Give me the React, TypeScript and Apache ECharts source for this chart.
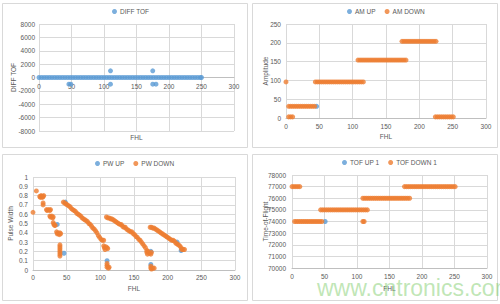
import React, { useEffect, useRef } from "react";
import * as echarts from "echarts";

// FHL sweep used by the DIFF TOF panel
const fhl = [
  0, 4, 8, 12, 16, 20, 24, 28, 32, 36, 40, 44, 48, 52, 56, 60, 64, 68, 72, 76, 80, 84, 88, 92, 96, 100,
  104, 108, 112, 116, 120, 124, 128, 132, 136, 140, 144, 148, 152, 156, 160, 164, 168, 172, 176, 180,
  184, 188, 192, 196, 200, 204, 208, 212, 216, 220, 224, 228, 232, 236, 240, 244, 248, 250,
];
const diffTof = [
  0, 0, 0, 0, 0, 0, 0, 0, 0, 0, 0, 0, 0, 0, 0, 0, 0, 0, 0, 0, 0, 0, 0, 0, 0, 0,
  0, 0, 0, 0, 0, 0, 0, 0, 0, 0, 0, 0, 0, 0, 0, 0, 0, 0, 0, 0,
  0, 0, 0, 0, 0, 0, 0, 0, 0, 0, 0, 0, 0, 0, 0, 0, 0, 0,
];
const diffTofJumpFhl = [46, 49, 110, 110, 175, 175, 180];
const diffTofJump = [-1000, -1000, 1000, -1000, 1000, -1000, -1000];

// Amplitude readings [FHL, amplitude]
const amUp: [number, number][] = [[46, 31]];
const amDown: [number, number][] = [
  [0, 96],
  [4, 3], [7, 3], [10, 3],
  [4, 31], [7, 31], [10, 31], [13, 31], [16, 31], [19, 31], [22, 31], [25, 31], [28, 31], [31, 31],
  [34, 31], [37, 31], [40, 31], [43, 31],
  [44, 96], [47, 96], [50, 96], [53, 96], [56, 96], [59, 96], [62, 96], [65, 96], [68, 96], [71, 96],
  [74, 96], [77, 96], [80, 96], [83, 96], [86, 96], [89, 96], [92, 96], [95, 96], [98, 96], [101, 96],
  [104, 96], [107, 96], [110, 96], [113, 96], [116, 96],
  [108, 154], [111, 154], [114, 154], [117, 154], [120, 154], [123, 154], [126, 154], [129, 154],
  [132, 154], [135, 154], [138, 154], [141, 154], [144, 154], [147, 154], [150, 154], [153, 154],
  [156, 154], [159, 154], [162, 154], [165, 154], [168, 154], [171, 154], [174, 154], [177, 154], [180, 154],
  [174, 204], [177, 204], [180, 204], [183, 204], [186, 204], [189, 204], [192, 204], [195, 204],
  [198, 204], [201, 204], [204, 204], [207, 204], [210, 204], [213, 204], [216, 204], [219, 204],
  [222, 204], [225, 204],
  [224, 3], [227, 3], [230, 3], [233, 3], [236, 3], [239, 3], [242, 3], [245, 3], [248, 3], [251, 3],
];

// Pulse width readings [FHL, width]
const pwUp: [number, number][] = [
  [36, 0.49], [46, 0.18], [48, 0.73], [110, 0.1], [175, 0.2], [175, 0.06], [214, 0.3], [220, 0.21],
];
const pwDown: [number, number][] = [
  [0, 0.62],
  [5, 0.85],
  [10, 0.79], [11, 0.78], [12, 0.8], [13, 0.79], [14, 0.78], [15, 0.79], [16, 0.8],
  [15, 0.72], [15, 0.7],
  [20, 0.65], [21, 0.64], [23, 0.65], [25, 0.64], [26, 0.65],
  [25, 0.58], [26, 0.57], [28, 0.58], [29, 0.56], [30, 0.57],
  [30, 0.51], [31, 0.49], [32, 0.48], [33, 0.48],
  [35, 0.41], [36, 0.39], [37, 0.4], [39, 0.38], [40, 0.4], [41, 0.39],
  [40, 0.27], [40, 0.25], [40, 0.23], [40, 0.21], [40, 0.19], [40, 0.17], [40, 0.15],
  [45, 0.73], [47, 0.72], [49, 0.71], [51, 0.7], [53, 0.69], [55, 0.68], [57, 0.66], [59, 0.65],
  [61, 0.64], [63, 0.63], [65, 0.61], [67, 0.6], [69, 0.59], [71, 0.58], [73, 0.56], [75, 0.55],
  [77, 0.54], [79, 0.53], [81, 0.52], [83, 0.5], [85, 0.49], [87, 0.47], [89, 0.45], [91, 0.44],
  [93, 0.42], [95, 0.4], [97, 0.37], [99, 0.35], [101, 0.33], [103, 0.32], [105, 0.32],
  [105, 0.26], [106, 0.24], [107, 0.22], [108, 0.25], [110, 0.24], [111, 0.23],
  [110, 0.07], [110, 0.05], [110, 0.03], [112, 0.02], [113, 0.03],
  [109, 0.57], [111, 0.56], [113, 0.56], [115, 0.55], [117, 0.55], [119, 0.54], [121, 0.53], [123, 0.52],
  [125, 0.51], [127, 0.5], [129, 0.49], [131, 0.49], [133, 0.47], [135, 0.46], [137, 0.46], [139, 0.44],
  [141, 0.43], [143, 0.42], [145, 0.41], [147, 0.41], [149, 0.39], [151, 0.38], [153, 0.36], [155, 0.35],
  [157, 0.33], [159, 0.32], [161, 0.3], [163, 0.28], [165, 0.26], [167, 0.24],
  [169, 0.21], [169, 0.19], [170, 0.17], [171, 0.2], [173, 0.18], [175, 0.17], [176, 0.19],
  [175, 0.04], [175, 0.02], [176, 0.01], [178, 0.02], [180, 0.02],
  [174, 0.46], [176, 0.46], [178, 0.45], [180, 0.45], [182, 0.44], [184, 0.43], [186, 0.42], [188, 0.41],
  [190, 0.4], [192, 0.39], [194, 0.38], [196, 0.37], [198, 0.36], [200, 0.35], [202, 0.34], [204, 0.33],
  [206, 0.32], [208, 0.32], [210, 0.31], [212, 0.29], [214, 0.28], [216, 0.27], [218, 0.26], [220, 0.24],
  [221, 0.22], [223, 0.22], [225, 0.22],
];

// Time-of-flight readings [FHL, TOF]
const tofUp: [number, number][] = [[51, 74000]];
const tofDown: [number, number][] = [
  [0, 77000], [3, 77000], [6, 77000], [9, 77000], [12, 77000],
  [4, 74000], [7, 74000], [10, 74000], [13, 74000], [16, 74000], [19, 74000], [22, 74000], [25, 74000],
  [28, 74000], [31, 74000], [34, 74000], [37, 74000], [40, 74000], [43, 74000], [46, 74000],
  [44, 75000], [47, 75000], [50, 75000], [53, 75000], [56, 75000], [59, 75000], [62, 75000], [65, 75000],
  [68, 75000], [71, 75000], [74, 75000], [77, 75000], [80, 75000], [83, 75000], [86, 75000], [89, 75000],
  [92, 75000], [95, 75000], [98, 75000], [101, 75000], [104, 75000], [107, 75000], [110, 75000],
  [113, 75000], [116, 75000],
  [109, 74000], [111, 74000],
  [109, 76000], [112, 76000], [115, 76000], [118, 76000], [121, 76000], [124, 76000], [127, 76000],
  [130, 76000], [133, 76000], [136, 76000], [139, 76000], [142, 76000], [145, 76000], [148, 76000],
  [151, 76000], [154, 76000], [157, 76000], [160, 76000], [163, 76000], [166, 76000], [169, 76000],
  [172, 76000], [175, 76000], [178, 76000], [181, 76000],
  [173, 77000], [176, 77000], [179, 77000], [182, 77000], [185, 77000], [188, 77000], [191, 77000],
  [194, 77000], [197, 77000], [200, 77000], [203, 77000], [206, 77000], [209, 77000], [212, 77000],
  [215, 77000], [218, 77000], [221, 77000], [224, 77000], [227, 77000], [230, 77000], [233, 77000],
  [236, 77000], [239, 77000], [242, 77000], [245, 77000], [248, 77000], [251, 77000],
];

const BLUE = "#5B9BD5";
const ORANGE = "#ED7D31";
const TEXT = "#595959";
const GRID = "#D9D9D9";
const FONT = "'Liberation Sans Narrow', 'Liberation Sans', sans-serif";
const FS = 6.5;

const plain = (v: number) => String(Math.round(v * 10) / 10);

function xAxis(gridIndex: number, labelMargin: number, nameGap: number, offset = 0) {
  return {
    type: "value",
    gridIndex,
    min: 0,
    max: 300,
    interval: 50,
    offset,
    name: "FHL",
    nameLocation: "middle",
    nameGap,
    nameMoveOverlap: false,
    nameTextStyle: { color: TEXT, fontSize: FS, fontFamily: FONT },
    axisLine: { show: true, onZero: false, lineStyle: { color: "#BFBFBF", width: 1 } },
    axisTick: { show: false },
    axisLabel: { color: TEXT, fontSize: FS, fontFamily: FONT, margin: labelMargin, formatter: plain },
    splitLine: { show: true, lineStyle: { color: GRID, width: 1 } },
  };
}

function yAxis(
  gridIndex: number,
  min: number,
  max: number,
  interval: number,
  name: string,
  nameGap: number,
  labelMargin: number
) {
  return {
    type: "value",
    gridIndex,
    min,
    max,
    interval,
    name,
    nameLocation: "middle",
    nameGap,
    nameRotate: 90,
    nameMoveOverlap: false,
    nameTextStyle: { color: TEXT, fontSize: FS, fontFamily: FONT },
    axisLine: { show: false },
    axisTick: { show: false },
    axisLabel: { color: TEXT, fontSize: FS, fontFamily: FONT, margin: labelMargin, formatter: plain },
    splitLine: { show: true, lineStyle: { color: GRID, width: 1 } },
  };
}

function legend(left: number, top: number, names: string[]) {
  return {
    left,
    top,
    data: names,
    icon: "circle",
    itemWidth: 5,
    itemHeight: 5,
    itemGap: 9,
    padding: 0,
    textStyle: { color: TEXT, fontSize: FS, fontFamily: FONT, padding: [0, 0, 0, -2] },
  };
}

function scatter(name: string, xi: number, data: [number, number][], color: string) {
  return {
    name,
    type: "scatter",
    xAxisIndex: xi,
    yAxisIndex: xi,
    data,
    symbol: "circle",
    symbolSize: 5,
    itemStyle: { color },
  };
}

function frame(x: number, y: number, w: number, h: number) {
  return {
    type: "rect",
    shape: { x, y, width: w, height: h },
    style: { fill: "#ffffff", stroke: GRID, lineWidth: 1 },
    z: -10,
    silent: true,
  };
}

export default function App() {
  const ref = useRef<HTMLDivElement>(null);

  useEffect(() => {
    if (!ref.current) return;
    const chart = echarts.init(ref.current, undefined, { renderer: "svg" });

    const diffTofPoints: [number, number][] = fhl.map((x, i) => [x, diffTof[i]]);
    const diffTofJumps: [number, number][] = diffTofJumpFhl.map((x, i) => [x, diffTofJump[i]]);

    chart.setOption({
      animation: false,
      backgroundColor: "#ffffff",
      textStyle: { fontFamily: FONT },
      graphic: [
        frame(2.5, 3.5, 245, 144),
        frame(252.5, 3.5, 245, 144),
        frame(2.5, 154.5, 245, 146),
        frame(252.5, 154.5, 245, 146),
        {
          type: "text",
          left: 317,
          top: 276,
          z: 100,
          silent: true,
          style: {
            text: "www.cntronics.com",
            fill: "rgba(130, 205, 110, 0.5)",
            fontSize: 23,
            fontFamily: "'Liberation Sans', sans-serif",
          },
        },
      ],
      legend: [
        legend(112, 8, ["DIFF TOF"]),
        legend(347, 8, ["AM UP", "AM DOWN"]),
        legend(95, 160, ["PW UP", "PW DOWN"]),
        legend(342, 159, ["TOF UP 1", "TOF DOWN 1"]),
      ],
      grid: [
        { left: 39, top: 24, width: 195, height: 107 },
        { left: 286, top: 24, width: 200, height: 94 },
        { left: 33, top: 177, width: 202, height: 93 },
        { left: 292, top: 175, width: 195, height: 93 },
      ],
      xAxis: [
        // DIFF TOF panel: axis sits on the zero line, halfway down the grid
        xAxis(0, 5, 56, -53.5),
        xAxis(1, 5, 15),
        xAxis(2, 4, 15),
        xAxis(3, 5, 17),
      ],
      yAxis: [
        yAxis(0, -8000, 8000, 2000, "DIFF TOF", 22, 4),
        yAxis(1, 0, 250, 50, "Amplitude", 17, 5),
        yAxis(2, 0, 1, 0.1, "Pulse Width", 19, 5),
        yAxis(3, 70000, 78000, 1000, "Time-of-Flight", 23, 6),
      ],
      series: [
        scatter("DIFF TOF", 0, diffTofPoints, BLUE),
        scatter("DIFF TOF", 0, diffTofJumps, BLUE),
        scatter("AM UP", 1, amUp, BLUE),
        scatter("AM DOWN", 1, amDown, ORANGE),
        scatter("PW UP", 2, pwUp, BLUE),
        scatter("PW DOWN", 2, pwDown, ORANGE),
        scatter("TOF UP 1", 3, tofUp, BLUE),
        scatter("TOF DOWN 1", 3, tofDown, ORANGE),
      ],
    });

    return () => chart.dispose();
  }, []);

  return (
    <div
      ref={ref}
      style={{ position: "fixed", left: 0, top: 0, width: 500, height: 304, background: "#ffffff" }}
    />
  );
}
